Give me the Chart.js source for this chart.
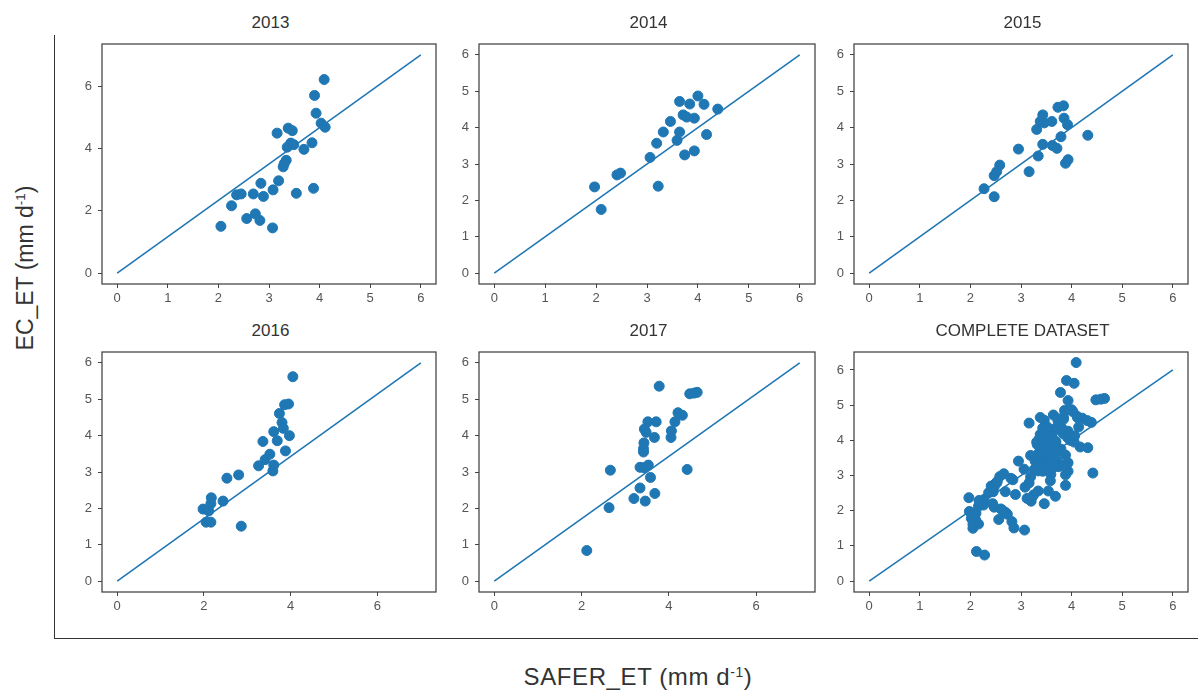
<!DOCTYPE html>
<html>
<head>
<meta charset="utf-8">
<script src="https://cdn.jsdelivr.net/npm/chart.js@4.4.1/dist/chart.umd.min.js"></script>
<style>
  body { margin: 0; background: #fff; width: 1198px; height: 693px; position: relative; overflow: hidden;
         font-family: "Liberation Sans", Arial, sans-serif; }
  .panel { position: absolute; }
  .title { position: absolute; height: 20px; line-height: 20px; font-size: 17px; color: #333; text-align: center; white-space: nowrap; }
  #frameL { position: absolute; left: 54px; top: 35px; width: 1px; height: 604px; background: #333; }
  #frameB { position: absolute; left: 54px; top: 638px; width: 1144px; height: 1px; background: #333; }
  #ylab { position: absolute; left: 25px; top: 268px; transform: translate(-50%, -50%) rotate(-90deg);
          font-size: 23px; color: #333; white-space: nowrap; }
  #xlab { position: absolute; left: 638px; top: 677px; transform: translate(-50%, -50%);
          font-size: 24px; line-height: 28px; letter-spacing: 0.6px; color: #333; white-space: nowrap; }
  sup { font-size: 0.58em; vertical-align: 0.6em; line-height: 0; }
</style>
</head>
<body>
<div id="frameL"></div>
<div id="frameB"></div>
<div id="ylab">EC_ET (mm d<sup>-1</sup>)</div>
<div id="xlab">SAFER_ET (mm d<sup>-1</sup>)</div>

<script>
// SAFER_ET vs EC_ET, [x, y] pairs
const et2013 = [
  [2.05, 1.50], [2.26, 2.16], [2.36, 2.51], [2.45, 2.54], [2.56, 1.75], [2.69, 2.54],
  [2.73, 1.90], [2.82, 1.69], [2.84, 2.88], [2.89, 2.46], [3.07, 1.45], [3.08, 2.67],
  [3.19, 2.96], [3.16, 4.49], [3.28, 3.41], [3.30, 3.51], [3.34, 3.62], [3.36, 4.04],
  [3.38, 4.65], [3.46, 4.57], [3.43, 4.17], [3.49, 4.12], [3.54, 2.56], [3.69, 3.97],
  [3.85, 4.18], [3.88, 2.72], [3.90, 5.70], [3.93, 5.13], [4.03, 4.81], [4.09, 6.21],
  [4.11, 4.68]
];
const et2014 = [
  [1.97, 2.37], [2.10, 1.75], [2.41, 2.70], [2.48, 2.75], [3.06, 3.18], [3.19, 3.57],
  [3.22, 2.39], [3.32, 3.88], [3.46, 4.17], [3.59, 3.65], [3.64, 3.88], [3.64, 4.72],
  [3.71, 4.35], [3.78, 4.29], [3.74, 3.25], [3.84, 4.65], [3.93, 4.26], [3.93, 3.36],
  [4.00, 4.87], [4.12, 4.64], [4.17, 3.81], [4.39, 4.51]
];
const et2015 = [
  [2.27, 2.32], [2.47, 2.10], [2.47, 2.68], [2.52, 2.79], [2.58, 2.97], [2.95, 3.41],
  [3.16, 2.79], [3.31, 3.95], [3.34, 3.22], [3.38, 4.17], [3.43, 4.35], [3.46, 4.13],
  [3.43, 3.54], [3.61, 4.17], [3.62, 3.51], [3.71, 3.43], [3.73, 4.56], [3.79, 3.75],
  [3.84, 4.60], [3.85, 4.26], [3.92, 4.08], [3.88, 3.02], [3.93, 3.12], [4.32, 3.79]
];
const et2016 = [
  [1.98, 1.98], [2.05, 1.62], [2.16, 1.62], [2.11, 1.93], [2.17, 2.29], [2.16, 2.13],
  [2.44, 2.20], [2.53, 2.83], [2.80, 2.92], [2.86, 1.51], [3.26, 3.17], [3.36, 3.84],
  [3.41, 3.34], [3.52, 3.49], [3.59, 3.03], [3.61, 3.19], [3.61, 4.11], [3.69, 3.86],
  [3.74, 4.61], [3.80, 4.36], [3.83, 4.20], [3.88, 3.58], [3.86, 4.85], [3.95, 4.87],
  [3.97, 4.00], [4.05, 5.62]
];
const et2017 = [
  [2.12, 0.84], [2.63, 2.02], [2.66, 3.05], [3.20, 2.27], [3.34, 2.56], [3.34, 3.13],
  [3.46, 2.20], [3.43, 3.12], [3.42, 3.64], [3.43, 3.80], [3.42, 3.55], [3.44, 4.18],
  [3.52, 4.38], [3.53, 3.19], [3.58, 2.85], [3.68, 2.41], [3.67, 3.95], [3.71, 4.38],
  [3.78, 5.36], [4.05, 3.95], [4.06, 4.13], [4.14, 4.38], [4.21, 4.63], [4.31, 4.56],
  [4.42, 3.07], [4.48, 5.15], [4.58, 5.17], [4.65, 5.19], [3.48, 4.09]
];
// points only visible in the complete panel
const etExtra = [
  [2.28, 0.74], [2.02, 1.78], [2.60, 2.05], [2.70, 1.95], [3.12, 2.35], [3.25, 2.45],
  [3.55, 3.70], [3.60, 3.35], [3.50, 3.90], [3.75, 3.70], [3.40, 3.30], [3.82, 3.30]
];

const ticksAll = [0, 1, 2, 3, 4, 5, 6];
const ticksEven = [0, 2, 4, 6];

const panels = [
  { title: '2013', pts: et2013, lineEnd: [6, 7], left: 102, right: 439, top: 41, bottom: 284,
    x: [-0.3, 6.3], y: [-0.35, 7.35], xTicks: ticksAll, yTicks: ticksEven },
  { title: '2014', pts: et2014, lineEnd: [6, 6], left: 479, right: 818, top: 41, bottom: 284,
    x: [-0.3, 6.3], y: [-0.3, 6.3], xTicks: ticksAll, yTicks: ticksAll },
  { title: '2015', pts: et2015, lineEnd: [6, 6], left: 854, right: 1191, top: 41, bottom: 284,
    x: [-0.3, 6.3], y: [-0.3, 6.3], xTicks: ticksAll, yTicks: ticksAll },
  { title: '2016', pts: et2016, lineEnd: [7, 6], left: 102, right: 439, top: 349, bottom: 592,
    x: [-0.35, 7.35], y: [-0.3, 6.3], xTicks: ticksEven, yTicks: ticksAll },
  { title: '2017', pts: et2017, lineEnd: [7, 6], left: 479, right: 818, top: 349, bottom: 592,
    x: [-0.35, 7.35], y: [-0.3, 6.3], xTicks: ticksEven, yTicks: ticksAll },
  { title: 'COMPLETE DATASET', pts: [...et2013, ...et2014, ...et2015, ...et2016, ...et2017, ...etExtra],
    lineEnd: [6, 6], left: 854, right: 1191, top: 349, bottom: 592,
    x: [-0.3, 6.3], y: [-0.31, 6.51], xTicks: ticksAll, yTicks: ticksAll }
];

const blue = '#1f77b4';

// box around the plot area, like matplotlib spines
const framePlugin = {
  id: 'frame',
  afterDatasetsDraw(chart) {
    const a = chart.chartArea, ctx = chart.ctx;
    ctx.save();
    ctx.strokeStyle = '#3a3a3a';
    ctx.lineWidth = 1.2;
    ctx.strokeRect(a.left, a.top, a.right - a.left, a.bottom - a.top);
    ctx.restore();
  }
};

function makePanel(p) {
  const yW = 40, xH = 26, pad = 3;
  const w = p.right - p.left + yW + pad;
  const h = p.bottom - p.top + pad + xH;

  const div = document.createElement('div');
  div.className = 'panel';
  div.style.left = (p.left - yW) + 'px';
  div.style.top = (p.top - pad) + 'px';
  const canvas = document.createElement('canvas');
  canvas.width = w;
  canvas.height = h;
  div.appendChild(canvas);
  document.body.appendChild(div);

  const t = document.createElement('div');
  t.className = 'title';
  t.textContent = p.title;
  t.style.left = p.left + 'px';
  t.style.width = (p.right - p.left) + 'px';
  t.style.top = (p.top - 28) + 'px';
  document.body.appendChild(t);

  const axis = (range, ticks, isX) => ({
    type: 'linear',
    min: range[0],
    max: range[1],
    afterBuildTicks: s => { s.ticks = ticks.map(v => ({ value: v })); },
    afterFit: s => {
      if (isX) s.height = xH; else s.width = yW;
      // keep the plot box exactly where the picture has it
      s.paddingTop = 0; s.paddingBottom = 0; s.paddingLeft = 0; s.paddingRight = 0;
    },
    border: { display: false },
    grid: { drawOnChartArea: false, drawTicks: true, tickLength: 4, color: '#444', lineWidth: 1 },
    ticks: { color: '#555', padding: isX ? 3 : 6, font: { family: '"Liberation Sans", Arial, sans-serif', size: 13 } }
  });

  new Chart(canvas.getContext('2d'), {
    type: 'scatter',
    data: {
      datasets: [
        {
          type: 'line',
          data: [{ x: 0, y: 0 }, { x: p.lineEnd[0], y: p.lineEnd[1] }],
          borderColor: blue,
          borderWidth: 1.6,
          pointRadius: 0,
          fill: false,
          order: 0
        },
        {
          data: p.pts.map(d => ({ x: d[0], y: d[1] })),
          backgroundColor: blue,
          borderColor: blue,
          borderWidth: 1,
          pointRadius: 5,
          order: 1
        }
      ]
    },
    options: {
      responsive: false,
      animation: false,
      layout: { padding: { top: pad, right: pad, left: 0, bottom: 0 } },
      plugins: { legend: { display: false }, tooltip: { enabled: false } },
      scales: {
        x: axis(p.x, p.xTicks, true),
        y: axis(p.y, p.yTicks, false)
      }
    },
    plugins: [framePlugin]
  });
}

panels.forEach(makePanel);
</script>
</body>
</html>
